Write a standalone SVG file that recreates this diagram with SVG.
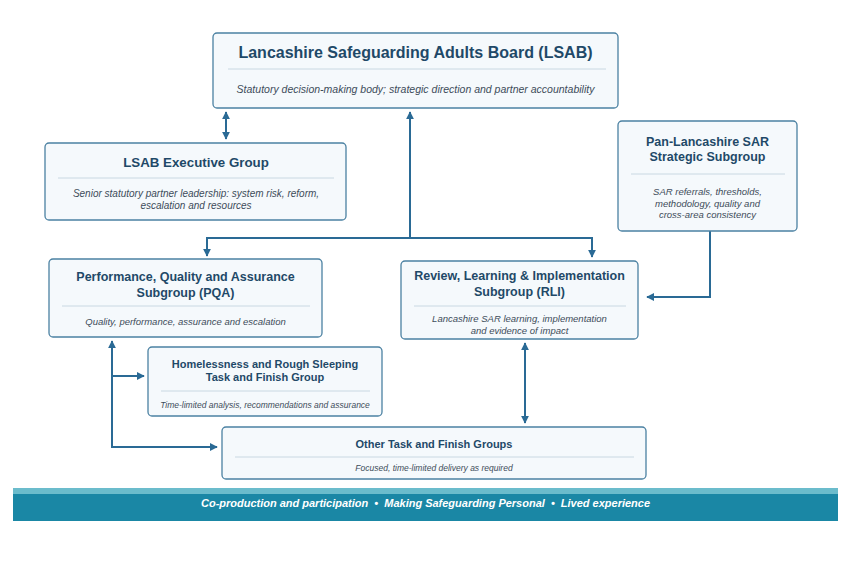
<svg xmlns="http://www.w3.org/2000/svg" width="850" height="566" viewBox="0 0 850 566">
<defs>
<marker id="ah" viewBox="0 0 10 10" refX="9" refY="5" markerWidth="4" markerHeight="4" orient="auto-start-reverse" markerUnits="strokeWidth">
<path d="M0,0 L10,5 L0,10 z" fill="#2a6a95"/>
</marker>
<style>
.box{fill:#f5f9fc;stroke:#4b81a2;stroke-width:1.3}
.div{stroke:#c9d8e2;stroke-width:1}
.t{font-family:"Liberation Sans",Arial,sans-serif;font-weight:bold;fill:#1f4968;text-anchor:middle}
.s{font-family:"Liberation Sans",Arial,sans-serif;font-style:italic;fill:#3d4c5a;text-anchor:middle}
.c{fill:none;stroke:#2a6a95;stroke-width:2}
</style>
</defs>
<rect width="850" height="566" fill="#ffffff"/>

<g id="connectors">
<line class="c" x1="226" y1="112" x2="226" y2="139" marker-start="url(#ah)" marker-end="url(#ah)"/>
<line class="c" x1="410" y1="238" x2="410" y2="112" marker-end="url(#ah)"/>
<path class="c" d="M207,256 V238 H592 V257" marker-start="url(#ah)" marker-end="url(#ah)"/>
<path class="c" d="M710,231 V297 H647" marker-end="url(#ah)"/>
<line class="c" x1="525" y1="343" x2="525" y2="423" marker-start="url(#ah)" marker-end="url(#ah)"/>
<path class="c" d="M112,341 V447 H217" marker-start="url(#ah)" marker-end="url(#ah)"/>
<line class="c" x1="112" y1="376" x2="144" y2="376" marker-end="url(#ah)"/>
</g>

<g id="lsab">
<rect class="box" x="213" y="33" width="405" height="75" rx="4"/>
<text class="t" x="415.5" y="58" font-size="16">Lancashire Safeguarding Adults Board (LSAB)</text>
<line class="div" x1="228" y1="69" x2="606" y2="69"/>
<text class="s" x="415.5" y="93" font-size="10.5">Statutory decision-making body; strategic direction and partner accountability</text>
</g>

<g id="executive">
<rect class="box" x="45" y="143" width="301" height="77" rx="4"/>
<text class="t" x="196" y="167" font-size="13.3">LSAB Executive Group</text>
<line class="div" x1="58" y1="178" x2="334" y2="178"/>
<text class="s" x="196" y="197" font-size="10">Senior statutory partner leadership: system risk, reform,</text>
<text class="s" x="196" y="209" font-size="10">escalation and resources</text>
</g>

<g id="pansar">
<rect class="box" x="618" y="121" width="179" height="110" rx="4"/>
<text class="t" x="707.5" y="146" font-size="12.5">Pan-Lancashire SAR</text>
<text class="t" x="707.5" y="161" font-size="12.5">Strategic Subgroup</text>
<line class="div" x1="631" y1="174" x2="785" y2="174"/>
<text class="s" x="707.5" y="195" font-size="9.5">SAR referrals, thresholds,</text>
<text class="s" x="707.5" y="207" font-size="9.5">methodology, quality and</text>
<text class="s" x="707.5" y="218" font-size="9.5">cross-area consistency</text>
</g>

<g id="pqa">
<rect class="box" x="49" y="259" width="273" height="78" rx="4"/>
<text class="t" x="185.5" y="281" font-size="12.5">Performance, Quality and Assurance</text>
<text class="t" x="185.5" y="297" font-size="12.5">Subgroup (PQA)</text>
<line class="div" x1="62" y1="306" x2="310" y2="306"/>
<text class="s" x="185.5" y="325" font-size="9.5">Quality, performance, assurance and escalation</text>
</g>

<g id="rli">
<rect class="box" x="401" y="261" width="237" height="78" rx="4"/>
<text class="t" x="519.5" y="280" font-size="12.5">Review, Learning &amp; Implementation</text>
<text class="t" x="519.5" y="296" font-size="12.5">Subgroup (RLI)</text>
<line class="div" x1="414" y1="306" x2="626" y2="306"/>
<text class="s" x="519.5" y="322" font-size="9.5">Lancashire SAR learning, implementation</text>
<text class="s" x="519.5" y="334" font-size="9.5">and evidence of impact</text>
</g>

<g id="homelessness">
<rect class="box" x="148" y="347" width="234" height="69" rx="4"/>
<text class="t" x="265" y="368" font-size="11">Homelessness and Rough Sleeping</text>
<text class="t" x="265" y="381" font-size="11">Task and Finish Group</text>
<line class="div" x1="161" y1="391" x2="370" y2="391"/>
<text class="s" x="265" y="408" font-size="8.5">Time-limited analysis, recommendations and assurance</text>
</g>

<g id="other">
<rect class="box" x="222" y="427" width="424" height="52" rx="4"/>
<text class="t" x="434" y="448" font-size="11">Other Task and Finish Groups</text>
<line class="div" x1="235" y1="457" x2="634" y2="457"/>
<text class="s" x="434" y="471" font-size="8.5">Focused, time-limited delivery as required</text>
</g>

<g id="band">
<rect x="13" y="488" width="825" height="33" fill="#1a87a5"/>
<rect x="13" y="488" width="825" height="6" fill="#6bbccc"/>
<text x="425.5" y="507" font-family="'Liberation Sans',Arial,sans-serif" font-size="11.3" font-weight="bold" font-style="italic" fill="#ffffff" text-anchor="middle" style="white-space:pre" textLength="449" lengthAdjust="spacingAndGlyphs">Co-production and participation  •  Making Safeguarding Personal  •  Lived experience</text>
</g>
</svg>
